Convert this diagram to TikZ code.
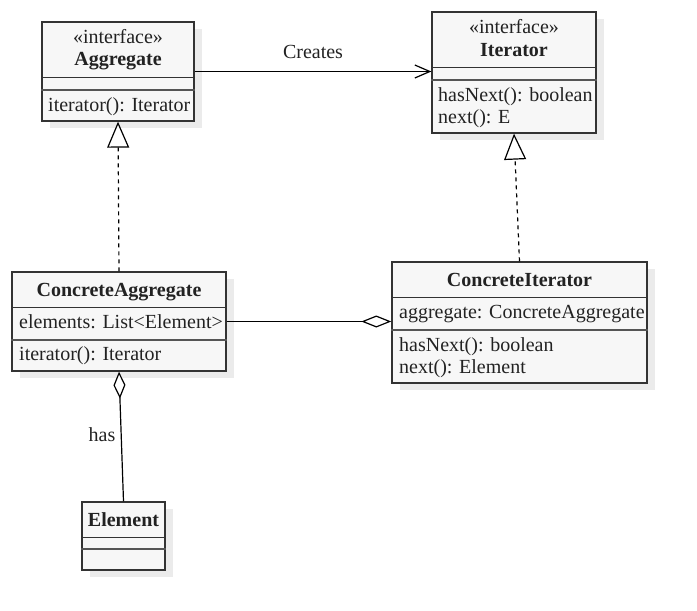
\documentclass[tikz,border=0pt]{standalone}
\usepackage{fontspec}
\setmainfont{Liberation Serif}
\usetikzlibrary{arrows.meta,shadows}
\definecolor{boxfill}{HTML}{F7F7F7}
\definecolor{boxline}{HTML}{333333}
\definecolor{sepc}{HTML}{555555}
\definecolor{shadowc}{HTML}{EBEBEB}
\definecolor{txtc}{HTML}{222222}
\tikzset{
  umlbox/.style={draw=boxline, fill=boxfill, line width=1.3pt, inner sep=0pt,
    drop shadow={shadow xshift=8pt, shadow yshift=-7pt, fill=shadowc, opacity=1}},
  sepline/.style={draw=boxline, line width=1pt},
  septhick/.style={draw=sepc, line width=2.4pt},
  mtxt/.style={inner sep=0pt, anchor=base west, text=txtc, font=\fontsize{20}{21.7}\selectfont},
  ctxt/.style={inner sep=0pt, anchor=base, text=txtc, font=\fontsize{20}{21.7}\selectfont},
  btxt/.style={ctxt, font=\fontsize{20}{21.7}\selectfont\bfseries},
  conn/.style={draw=black, line width=1.2pt},
  realize/.style={conn, dash pattern=on 4pt off 4pt,
    -{Triangle[open, length=26pt, width=22pt, fill=white, line width=1.2pt]}},
}
\begin{document}
\begin{tikzpicture}[x=1pt, y=-1pt]
\useasboundingbox (0,0) rectangle (697,611);

% boxes
\node[umlbox, minimum width=152pt, minimum height=99pt] (agg) at (118,71.5) {};
\node[umlbox, minimum width=164pt, minimum height=121pt] (it) at (514,72.5) {};
\node[umlbox, minimum width=214pt, minimum height=99pt] (ca) at (119,321.5) {};
\node[umlbox, minimum width=255pt, minimum height=121pt] (ci) at (519.5,322.5) {};
\node[umlbox, minimum width=83pt, minimum height=68pt] (el) at (123.5,536) {};

% compartments
\draw[sepline] (agg.west |- 0,77) -- (agg.east |- 0,77);
\draw[septhick] (agg.west |- 0,90) -- (agg.east |- 0,90);
\draw[sepline] (it.west |- 0,67) -- (it.east |- 0,67);
\draw[septhick] (it.west |- 0,80) -- (it.east |- 0,80);
\draw[sepline] (ca.west |- 0,307) -- (ca.east |- 0,307);
\draw[septhick] (ca.west |- 0,340) -- (ca.east |- 0,340);
\draw[sepline] (ci.west |- 0,297) -- (ci.east |- 0,297);
\draw[septhick] (ci.west |- 0,330) -- (ci.east |- 0,330);
\draw[sepline] (el.west |- 0,537) -- (el.east |- 0,537);
\draw[septhick] (el.west |- 0,549) -- (el.east |- 0,549);

% texts
\node[ctxt] (aggst) at (118,43.3) {«interface»};
\node[btxt] (aggname) at (118,65.7) {Aggregate};
\node[mtxt] (aggm) at (48,111.7) {iterator(): Iterator};

\node[ctxt] (itst) at (514,33.3) {«interface»};
\node[btxt] (itname) at (514,56.7) {Iterator};
\node[mtxt] (itm1) at (438,101.7) {hasNext(): boolean};
\node[mtxt] (itm2) at (438,123.3) {next(): E};

\node[btxt] (caname) at (119,296.7) {ConcreteAggregate};
\node[mtxt] (caa) at (19,328.3) {elements: List<Element>};
\node[mtxt] (cam) at (19,360.7) {iterator(): Iterator};

\node[btxt] (ciname) at (519.5,286.7) {ConcreteIterator};
\node[mtxt] (cia) at (399,318.3) {aggregate: ConcreteAggregate};
\node[mtxt] (cim1) at (399,351.7) {hasNext(): boolean};
\node[mtxt] (cim2) at (399,373.3) {next(): Element};

\node[btxt] (elname) at (123.5,526.7) {Element};

% connectors
\draw[conn, -{Straight Barb[length=15pt, width=13pt, line width=1.2pt]}] (agg.east) -- (agg.east -| it.west);
\node[ctxt] (creates) at (313,58.3) {Creates};

\draw[realize] (ca.north) -- (agg.south);
\draw[realize] (ci.north) -- (it.south);

\draw[conn, -{Diamond[open, length=30pt, width=12pt, fill=white, line width=1.2pt]}] (ca.east) -- (ca.east -| ci.west);

\draw[conn, {Diamond[open, length=27pt, width=12pt, fill=white, line width=1.2pt]}-] (ca.south) -- (el.north);
\node[ctxt] (has) at (102,441.7) {has};
\end{tikzpicture}
\end{document}
